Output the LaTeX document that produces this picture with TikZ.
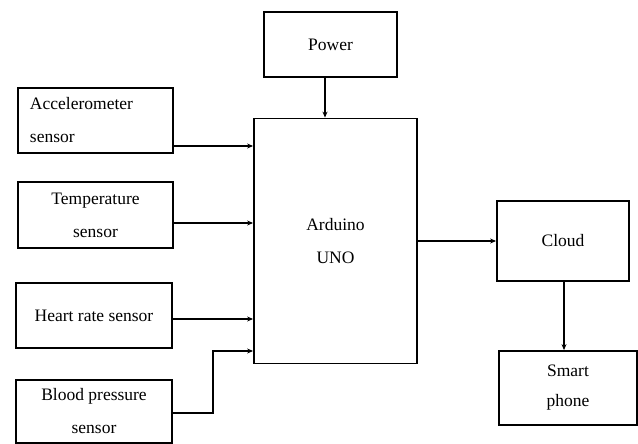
\documentclass[tikz,border=0pt]{standalone}
\usepackage{fontspec}
\setmainfont{Liberation Serif}
\usetikzlibrary{arrows.meta}
\begin{document}
\begin{tikzpicture}[x=1pt,y=-1pt,
  box/.style={draw,line width=1.8pt,inner sep=0pt,align=center,
    font=\fontsize{17.5}{33}\selectfont},
  arr/.style={draw,line width=1.6pt,-{Stealth[length=6pt,width=5pt]}}]
\useasboundingbox (0,0) rectangle (638,444);
\node[box,minimum width=133pt,minimum height=65pt] (power) at (330.5,44.5) {Power};
\node[box,minimum width=163pt,minimum height=245pt] (ard) at (335.5,241) {Arduino\\UNO};
\node[box,minimum width=155pt,minimum height=65pt,text width=131pt,align=left] (acc) at (95.5,120.5) {Accelerometer\\sensor};
\node[box,minimum width=155pt,minimum height=66pt] (temp) at (95.5,215) {Temperature\\sensor};
\node[box,minimum width=156pt,minimum height=65pt] (heart) at (94,315.5) {Heart rate sensor};
\node[box,minimum width=156pt,minimum height=63pt] (blood) at (94,411.5) {Blood pressure\\sensor};
\node[box,minimum width=132pt,minimum height=80pt] (cloud) at (563,241) {Cloud};
\node[box,minimum width=138pt,minimum height=74pt,font=\fontsize{17.5}{30}\selectfont] (smart) at (568,388) {Smart\\phone};
\coordinate (bend) at (213,351);
\draw[arr] (power.south -| 325,0) -- (ard.north -| 325,0);
\draw[arr] (acc.east |- 0,146) -- (ard.west |- 0,146);
\draw[arr] (temp.east |- 0,223) -- (ard.west |- 0,223);
\draw[arr] (heart.east |- 0,319) -- (ard.west |- 0,319);
\draw[arr] (blood.east |- 0,413) -| (bend) -- (ard.west |- bend);
\draw[arr] (ard.east |- 0,241) -- (cloud.west |- 0,241);
\draw[arr] (cloud.south -| 564,0) -- (smart.north -| 564,0);
\end{tikzpicture}
\end{document}
